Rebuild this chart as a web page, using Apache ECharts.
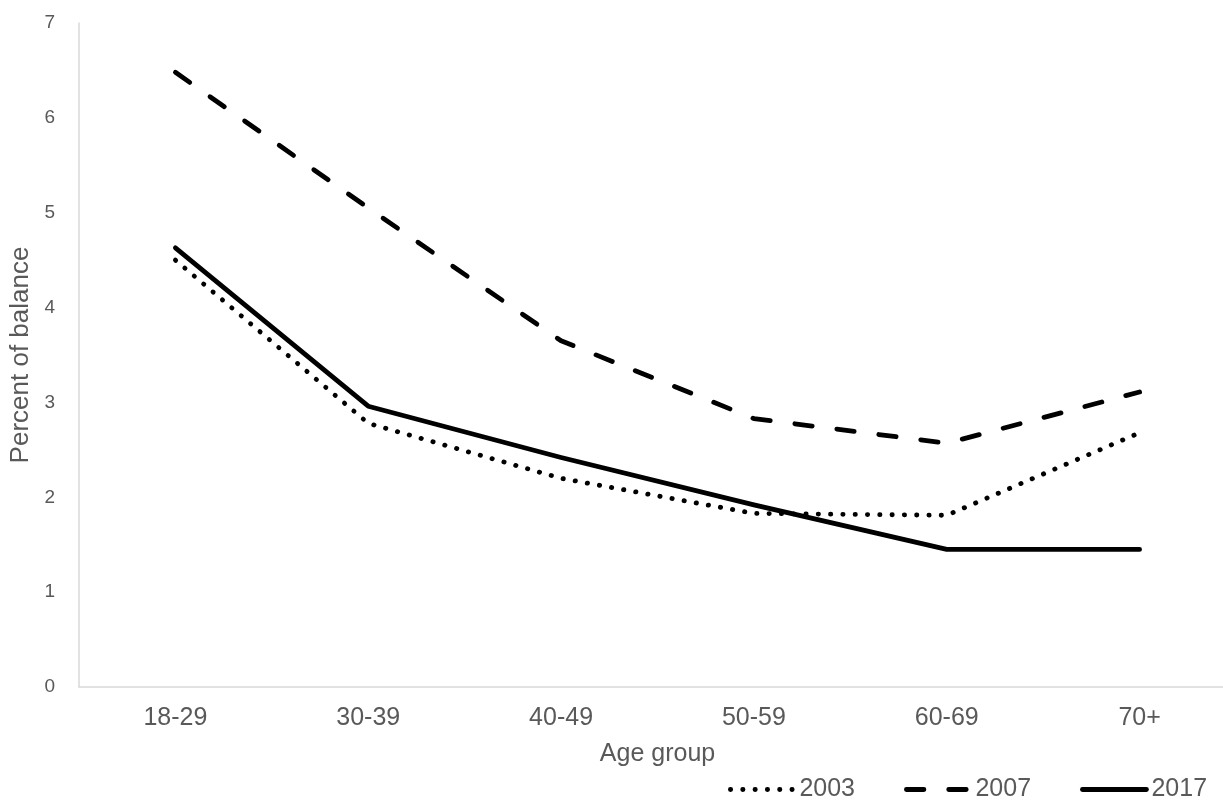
<!DOCTYPE html>
<html>
<head>
<meta charset="utf-8">
<title>Percent of balance by age group</title>
<script src="https://cdn.jsdelivr.net/npm/echarts@6.0.0/dist/echarts.min.js"></script>
<style>
  html, body { margin: 0; padding: 0; background: #fff; }
  #chart { width: 1223px; height: 805px; }
</style>
</head>
<body>
<div id="chart"></div>
<script>
// data
const ageGroups = ["18-29", "30-39", "40-49", "50-59", "60-69", "70+"];
const pct2003 = [4.5, 2.78, 2.2, 1.83, 1.81, 2.68];
const pct2007 = [6.48, 5.05, 3.65, 2.83, 2.57, 3.11];
const pct2017 = [4.63, 2.96, 2.42, 1.92, 1.45, 1.45];
const yMin = 0;
const yMax = 7;
const yStep = 1;

const FONT = '"Liberation Sans", Arial, sans-serif';
const TEXT = "#595959";
const AXIS = "#d9d9d9";
const LW = 4.8;

// one line series, black, with its own dash pattern
const makeLine = (name, data, dash) => ({
  name,
  type: "line",
  data,
  symbol: "none",
  smooth: false,
  itemStyle: { color: "#000" },
  lineStyle: { color: "#000", width: LW, type: dash, cap: "round", join: "round" },
});

const chart = echarts.init(document.getElementById("chart"), null, { renderer: "canvas" });

chart.setOption({
  animation: false,
  backgroundColor: "#fff",
  textStyle: { fontFamily: FONT },
  grid: {
    left: 79,
    top: 23,
    width: 1157,
    height: 664,
    containLabel: false,
    outerBoundsMode: "none",
  },
  legend: {
    left: 728,
    top: 777,
    padding: 0,
    itemWidth: 64,
    itemHeight: 14,
    itemGap: 49,
    textStyle: { color: TEXT, fontSize: 25, fontFamily: FONT },
    itemStyle: { color: "rgba(0,0,0,0)", borderColor: "rgba(0,0,0,0)", borderWidth: 0 },
    lineStyle: { width: LW },
    data: ["2003", "2007", "2017"],
  },
  xAxis: {
    type: "category",
    data: ageGroups,
    boundaryGap: true,
    axisLine: { show: true, lineStyle: { color: AXIS, width: 1.5 } },
    axisTick: { show: false },
    splitLine: { show: false },
    axisLabel: { color: TEXT, fontSize: 25, margin: 19, fontFamily: FONT },
    name: "Age group",
    nameLocation: "middle",
    nameGap: 55,
    nameTextStyle: { color: TEXT, fontSize: 25, fontFamily: FONT },
  },
  yAxis: {
    type: "value",
    min: yMin,
    max: yMax,
    interval: yStep,
    axisLine: { show: true, lineStyle: { color: AXIS, width: 1.5 } },
    axisTick: { show: false },
    splitLine: { show: false },
    axisLabel: { color: TEXT, fontSize: 19, margin: 24, fontFamily: FONT },
    name: "Percent of balance",
    nameLocation: "middle",
    nameRotate: 90,
    nameGap: 41,
    nameTextStyle: { color: TEXT, fontSize: 26, fontFamily: FONT },
  },
  series: [
    makeLine("2003", pct2003, [0.3, 12]),
    makeLine("2007", pct2007, [17.5, 24.8]),
    makeLine("2017", pct2017, "solid"),
  ],
});
</script>
</body>
</html>
